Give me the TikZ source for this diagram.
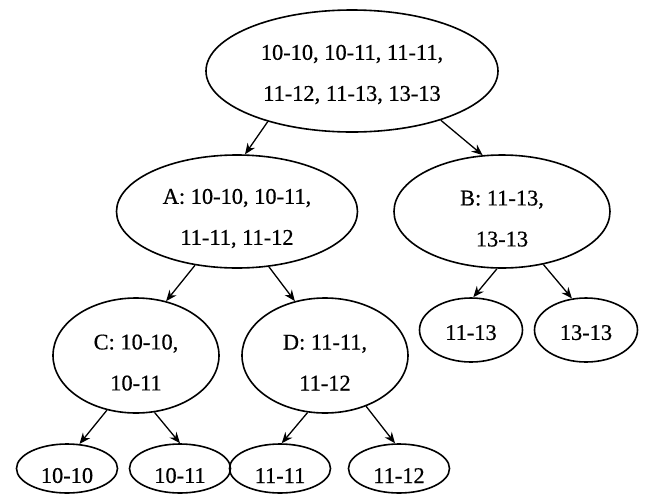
\documentclass[tikz,border=0pt]{standalone}
\usepackage{fontspec}
\setmainfont{Liberation Serif}
\newfontfamily\heavyserif{Liberation Serif}[FakeBold=0.6]
\usetikzlibrary{shapes.geometric,arrows.meta}

\newcommand\tstrut[1][14.5pt]{\rule{0pt}{#1}}

\begin{document}
\begin{tikzpicture}[
  x=0.5pt, y=-0.5pt,
  nd/.style={draw, ellipse, line width=0.8pt, inner sep=0pt, align=center,
             font=\heavyserif\fontsize{11.2}{20.5}\selectfont},
  cd/.style={nd, minimum width=83pt, minimum height=57.5pt},
  lv/.style={nd, minimum width=51.5pt, minimum height=32pt},
  lvb/.style={nd, minimum width=50.5pt, minimum height=24.5pt},
  ar/.style={-{Stealth[length=5.5pt,width=4.5pt]}, line width=0.65pt}]

\useasboundingbox (0,0) rectangle (645,494);

% ---- upper levels -------------------------------------------------------
\node[nd, minimum width=146pt, minimum height=61pt] (root) at (352,71)
  {\tstrut[11pt]10-10, 10-11, 11-11,\\ 11-12, 11-13, 13-13};
\node[nd, minimum width=120.5pt, minimum height=56.5pt] (A) at (237,211.5)
  {\tstrut A: 10-10, 10-11,\\ 11-11, 11-12};
\node[nd, minimum width=108pt, minimum height=56.5pt] (B) at (502,211.5)
  {\tstrut B: 11-13,\\ 13-13};
\node[cd] (C) at (136,355.5) {\tstrut C: 10-10,\\ 10-11};
\node[cd] (D) at (325,355.5) {\tstrut D: 11-11,\\ 11-12};

% ---- leaves -------------------------------------------------------------
\node[lv] (L1113) at (471,330) {\tstrut[10pt]11-13};
\node[lv] (L1313) at (586,330) {\tstrut[10pt]13-13};
\node[lvb] (L1010) at (67,468.5) {\tstrut 10-10};
\node[lvb] (L1011) at (180,468.5) {\tstrut 10-11};
\node[lvb] (L1111) at (280,468.5) {\tstrut 11-11};
\node[lvb] (L1112) at (399,468.5) {\tstrut 11-12};

% ---- arrows -------------------------------------------------------------
\draw[ar] (root.211) -- (A.82);
\draw[ar] (root.331) -- (B.109);
\draw[ar] (A.232) -- (C.61);
\draw[ar] (A.300) -- (D.119);
\draw[ar] (B.265) -- (L1113.86);
\draw[ar] (B.308) -- (L1313.114);
\draw[ar] (C.242) -- (L1010.63);
\draw[ar] (C.288) -- (L1011.90);
\draw[ar] (D.253) -- (L1111.86);
\draw[ar] (D.309) -- (L1112.99);

\end{tikzpicture}
\end{document}
